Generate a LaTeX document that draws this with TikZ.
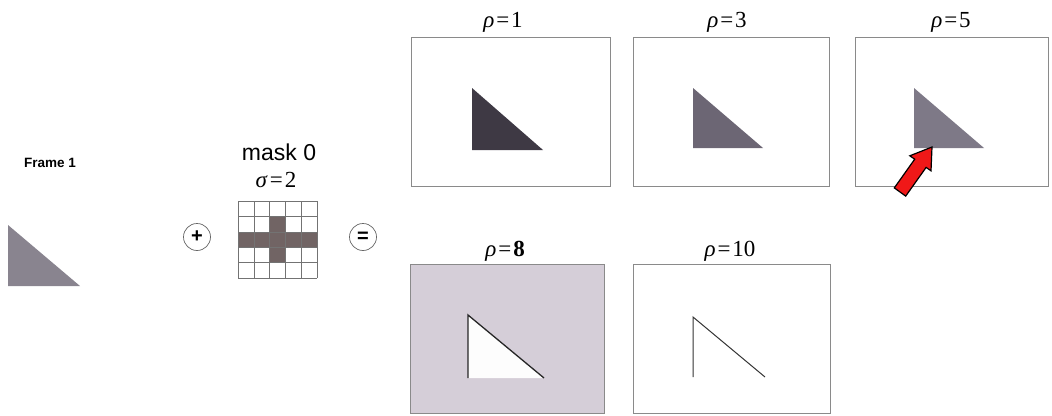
\documentclass[tikz,border=0pt]{standalone}
\usepackage{fontspec}
\setmainfont{Liberation Serif}
\setsansfont{Liberation Sans}
\begin{document}
\begin{tikzpicture}[x=1pt,y=-1pt]
\definecolor{boxgray}{HTML}{8A8A8A}
\definecolor{tri1}{HTML}{3E3944}
\definecolor{tri3}{HTML}{6C6674}
\definecolor{tri5}{HTML}{7E7987}
\definecolor{trif}{HTML}{89848F}
\definecolor{maskfill}{HTML}{716464}
\definecolor{bg8}{HTML}{D5CED8}
\definecolor{arrowred}{HTML}{F01818}
\tikzset{
  framebox/.style={draw=boxgray, line width=0.8pt, minimum width=#1, minimum height=149pt, inner sep=0pt, anchor=north west},
  rholabel/.style={font=\fontsize{23}{23}\selectfont, inner sep=0pt},
  opcirc/.style={circle, draw=black!60, line width=0.7pt, minimum size=27pt, inner sep=0pt, font=\sffamily\bfseries\fontsize{20}{20}\selectfont},
  cell/.style={draw=black!55, line width=0.5pt}
}
\useasboundingbox (0,0) rectangle (1052,415);

% Frame 1
\node[font=\sffamily\bfseries\fontsize{13.5}{14}\selectfont, inner sep=0pt] (frame) at (50,163) {Frame 1};
\fill[trif] (8,225) -- (8,286) -- (80,286) -- cycle;

% operators
\node[opcirc] (plus) at (197,237) {+};
\node[opcirc] (eq) at (363,237) {=};

% mask
\node[font=\sffamily\fontsize{23}{23}\selectfont, inner sep=0pt] (mask) at (279,152) {mask 0};
\node[rholabel] (sigma) at (276,180) {\textit{σ}\kern2pt=\kern2pt2};
\foreach \i/\j in {0/2,1/2,2/2,3/2,4/2,2/1,2/3}{
  \fill[maskfill] (238+\i*15.8,201+\j*15.4) rectangle ++(15.8,15.4);
}
\foreach \i in {0,...,5}{
  \draw[cell] (238+\i*15.8,201) -- (238+\i*15.8,278);
  \draw[cell] (238,201+\i*15.4) -- (317,201+\i*15.4);
}

% rho = 1
\node[framebox=199pt] (b1) at (411,37) {};
\node[rholabel] (l1) at (503,22) {\textit{ρ}\kern2pt=\kern2pt1};
\fill[tri1] (472,88) -- (472,150) -- (543,150) -- cycle;

% rho = 3
\node[framebox=196pt] (b3) at (633,37) {};
\node[rholabel] (l3) at (727,22) {\textit{ρ}\kern2pt=\kern2pt3};
\fill[tri3] (693,88) -- (693,148) -- (763,148) -- cycle;

% rho = 5
\node[framebox=193pt] (b5) at (855,37) {};
\node[rholabel] (l5) at (951,22) {\textit{ρ}\kern2pt=\kern2pt5};
\fill[tri5] (914,88) -- (914,148) -- (984,148) -- cycle;

% red arrow
\filldraw[fill=arrowred, draw=black, line width=1.2pt, line join=miter]
  (905.7,196.1) -- (926.1,167.4) -- (931.0,170.8) -- (932,147) -- (909.8,155.8) -- (914.7,159.2) -- (894.3,187.9) -- cycle;

% rho = 8
\node[framebox=194pt, fill=bg8] (b8) at (410,264) {};
\node[rholabel] (l8) at (505,251) {\textit{ρ}\kern2pt=\kern2pt\textbf{8}};
\fill[white!96!bg8] (468,315) -- (468,378) -- (544,378) -- cycle;
\draw[black!85, line width=1.3pt] (468,378) -- (468,315) -- (544,378);

% rho = 10
\node[framebox=197pt] (b10) at (633,264) {};
\node[rholabel] (l10) at (730,251) {\textit{ρ}\kern2pt=\kern2pt10};
\draw[black!80, line width=1pt] (693,377) -- (693,317) -- (765,377);
\end{tikzpicture}
\end{document}
